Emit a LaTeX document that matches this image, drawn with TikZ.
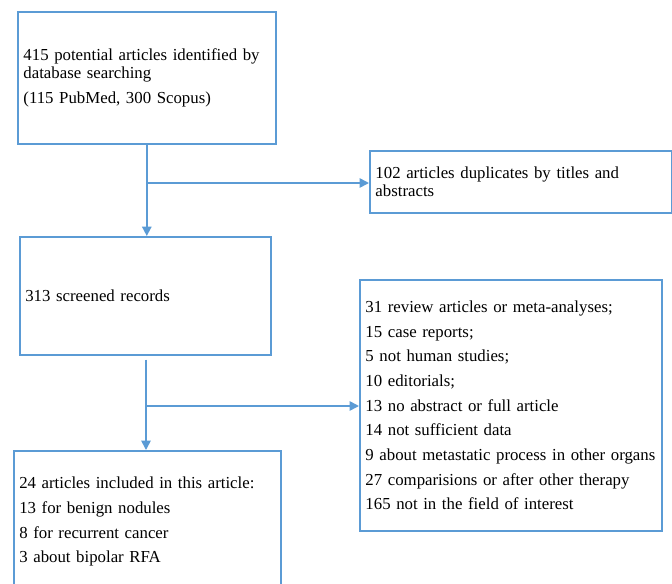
\documentclass[tikz,border=0pt]{standalone}
\usepackage{fontspec}
\setmainfont{Liberation Serif}
\usetikzlibrary{arrows,arrows.meta,positioning}
\definecolor{boxblue}{RGB}{91,155,213}
\hyphenpenalty=10000

\begin{document}
\begin{tikzpicture}[x=0.75pt,y=-0.75pt,
			mybox/.style={draw=boxblue,line width=1.2pt,rectangle,anchor=north west,align=left,
				inner xsep=3.75pt,font=\fontsize{12.6}{13.5}\selectfont},
			myarrow/.style={draw=boxblue,line width=1.2pt,-{Triangle[length=7pt,width=7pt]}}
		]
		\clip (0,0) rectangle (672,583);

		\node[mybox,minimum width=193.5pt,minimum height=99pt,text width=185pt] (found) at (17,11)
			{415 potential articles identified by\\ database searching\\[4.9pt] (115 PubMed, 300 Scopus)};
		\node[mybox,minimum width=226.5pt,minimum height=46.5pt,text width=218pt] (dupl) at (369,150)
			{102 articles duplicates by titles and\\ abstracts};
		\node[mybox,minimum width=188.25pt,minimum height=88.5pt,text width=180pt] (screen) at (19,236)
			{313 screened records};
		\node[mybox,minimum width=226.5pt,minimum height=188.25pt,text width=218pt] (excl) at (359,279)
			{31 review articles or meta-analyses;\\[5pt] 15 case reports;\\[5pt] 5 not human studies;\\[5pt]
			10 editorials;\\[5pt] 13 no abstract or full article\\[5pt] 14 not sufficient data\\[5pt]
			9 about metastatic process in other organs\\[5pt] 27 comparisions or after other therapy\\[5pt]
			165 not in the field of interest};
		\node[mybox,minimum width=200.25pt,minimum height=106.5pt,text width=192pt] (incl) at (13,450)
			{24 articles included in this article:\\[5pt] 13 for benign nodules\\[5pt] 8 for recurrent cancer\\[5pt]
			3 about bipolar RFA};

		\coordinate (j1) at (146,183);
		\coordinate (j2) at (146,406);

		\draw[myarrow] (found.south) -- (found.south |- screen.north);
		\draw[myarrow] (j1) -- (j1 -| dupl.west);
		\draw[myarrow,shorten <=3pt] (146,0 |- screen.south) -- (146,0 |- incl.north);
		\draw[myarrow] (j2) -- (j2 -| excl.west);

	\end{tikzpicture}
\end{document}
